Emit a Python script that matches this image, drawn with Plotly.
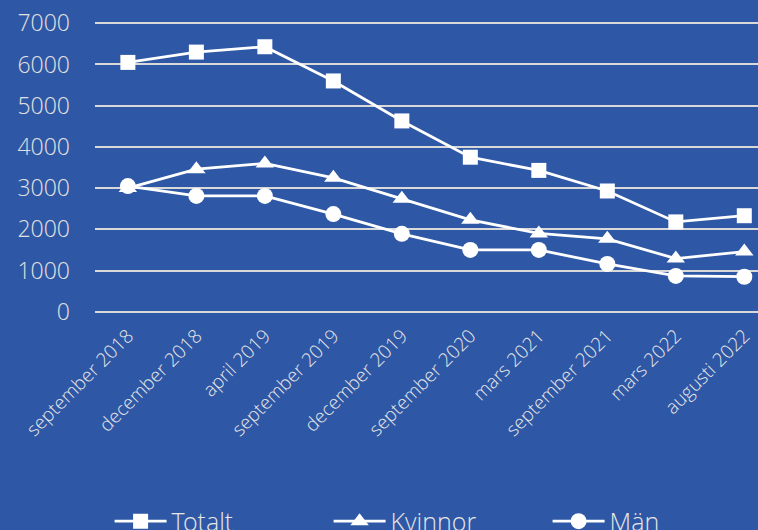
import plotly.graph_objects as go

categories = ["september 2018", "december 2018", "april 2019", "september 2019",
              "december 2019", "september 2020", "mars 2021", "september 2021",
              "mars 2022", "augusti 2022"]
totalt = [6050, 6300, 6430, 5600, 4630, 3750, 3430, 2930, 2180, 2330]
kvinnor = [3000, 3460, 3600, 3250, 2740, 2230, 1900, 1770, 1290, 1460]
man = [3050, 2810, 2810, 2370, 1890, 1500, 1500, 1160, 870, 850]
y_ticks = [0, 1000, 2000, 3000, 4000, 5000, 6000, 7000]

BG = "#2E57A5"
FONT = "Open Sans Light, Open Sans"

fig = go.Figure()
series = [("Totalt", totalt, "square", 15), ("Kvinnor", kvinnor, "triangle-up", 16),
          ("Män", man, "circle", 16)]
for name, vals, sym, sz in series:
    fig.add_trace(go.Scatter(
        x=list(range(len(categories))), y=vals, name=name, mode="lines+markers",
        line=dict(color="white", width=2.8),
        marker=dict(symbol=sym, size=sz, color="white", line=dict(width=0)),
    ))

top = 23 - 200 * 289 / 7000
bottom = 312 + 200 * 289 / 7000
plot_h = bottom - top

fig.update_layout(
    width=758, height=530,
    paper_bgcolor=BG, plot_bgcolor=BG,
    margin=dict(l=95, r=0, t=top, b=530 - bottom, autoexpand=False),
    font=dict(family=FONT, color="#E6E6E6", weight=300),
    showlegend=True,
    legend=dict(orientation="h", x=0.022, xanchor="left",
                y=(bottom - 522) / plot_h, yanchor="middle",
                font=dict(size=25, color="#E6E6E6", family=FONT, weight=300),
                entrywidth=152, itemwidth=52, bgcolor="rgba(0,0,0,0)"),
    xaxis=dict(range=[-0.48, 9.2], tickmode="array",
               tickvals=list(range(len(categories))), ticktext=categories,
               tickangle=-45, showgrid=False, zeroline=False, showline=False,
               ticks="", tickfont=dict(size=19, color="#E6E6E6", family=FONT, weight=300)),
    yaxis=dict(range=[-200, 7200], tickmode="array", tickvals=y_ticks,
               showgrid=True, gridcolor="#D9D9D9", gridwidth=2, zeroline=False,
               showline=False, ticks="", ticklabelstandoff=24,
               tickfont=dict(size=23, color="#E0E0E0", family=FONT, weight=300)),
)

fig.write_html("out.html", config={"displayModeBar": False},
               post_script="document.body.style.margin='0';document.body.style.background='%s';" % BG)
